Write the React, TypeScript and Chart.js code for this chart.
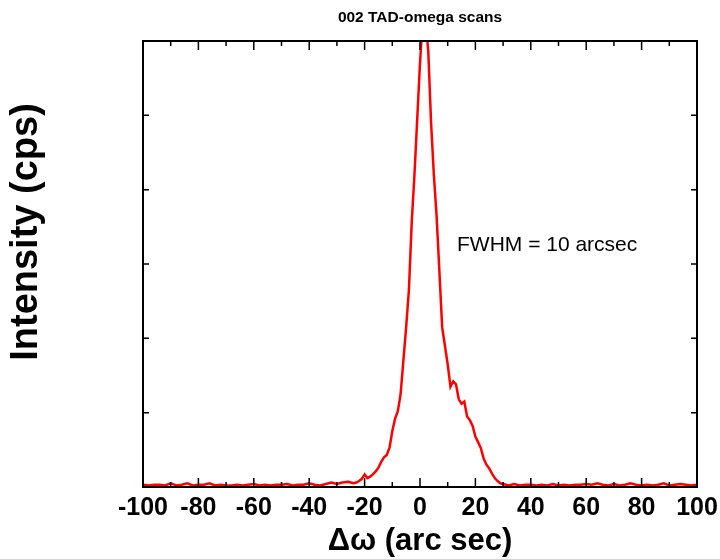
import React, { useEffect, useRef } from "react";
import { Chart, registerables } from "chart.js";

Chart.register(...registerables);

const chartTitle = "002 TAD-omega scans";
const xAxisTitle = "Δω (arc sec)";
const yAxisTitle = "Intensity (cps)";
const annotation = "FWHM = 10 arcsec";

const xTickValues = [-100, -80, -60, -40, -20, 0, 20, 40, 60, 80, 100];
const yTickValues = [1, 2, 3, 4, 5];

const leftBaseX = [-100, -98, -96, -94, -92, -90, -88, -86, -84, -82, -80, -78, -76, -74, -72, -70, -68, -66, -64, -62, -60, -58, -56, -54, -52, -50, -48, -46, -44, -42, -40, -38, -36, -34, -32];
const leftBaseY = [0.03, 0.02, 0.03, 0.03, 0.02, 0.05, 0.02, 0.03, 0.05, 0.02, 0.03, 0.03, 0.05, 0.02, 0.03, 0.02, 0.02, 0.03, 0.02, 0.03, 0.04, 0.02, 0.03, 0.02, 0.03, 0.03, 0.04, 0.02, 0.03, 0.03, 0.05, 0.03, 0.02, 0.04, 0.06];

const peakX = [-30, -28, -26, -25, -24, -23, -22, -21, -20, -19, -18, -17, -16, -15, -14, -13, -12, -11, -10, -9, -8, -7, -6, -5, -4, -3, -2, -1, 0, 1, 2, 3, 4, 5, 6, 7, 8, 9, 10, 11, 12, 13, 14, 15, 16, 17, 18, 19, 20, 21, 22, 23, 24, 25, 26, 27, 28, 29, 30];
const peakY = [0.04, 0.06, 0.07, 0.06, 0.05, 0.06, 0.08, 0.11, 0.17, 0.12, 0.14, 0.17, 0.21, 0.26, 0.34, 0.4, 0.43, 0.53, 0.75, 0.92, 1.02, 1.25, 1.7, 2.15, 2.65, 3.55, 4.2, 4.95, 5.7, 6.3, 6.3, 5.85, 4.9, 4.2, 3.64, 2.9, 2.15, 1.9, 1.65, 1.35, 1.42, 1.38, 1.18, 1.12, 1.15, 0.95, 0.9, 0.82, 0.68, 0.6, 0.52, 0.38, 0.3, 0.25, 0.18, 0.12, 0.08, 0.05, 0.04];

const rightBaseX = [32, 34, 36, 38, 40, 42, 44, 46, 48, 50, 52, 54, 56, 58, 60, 62, 64, 66, 68, 70, 72, 74, 76, 78, 80, 82, 84, 86, 88, 90, 92, 94, 96, 98, 100];
const rightBaseY = [0.02, 0.04, 0.02, 0.03, 0.03, 0.02, 0.03, 0.02, 0.04, 0.02, 0.03, 0.02, 0.03, 0.03, 0.04, 0.03, 0.05, 0.03, 0.02, 0.04, 0.02, 0.03, 0.05, 0.03, 0.02, 0.03, 0.02, 0.03, 0.05, 0.02, 0.03, 0.04, 0.03, 0.02, 0.03];

const FONT = "'Liberation Sans', Arial, Helvetica, sans-serif";

export default function App() {
  const ref = useRef<HTMLCanvasElement | null>(null);

  useEffect(() => {
    if (!ref.current) return;
    const xs = [...leftBaseX, ...peakX, ...rightBaseX];
    const ys = [...leftBaseY, ...peakY, ...rightBaseY];
    const points = xs.map((x, i) => ({ x, y: ys[i] }));

    const framePlugin = {
      id: "frame",
      afterDraw(chart: any) {
        const { ctx, chartArea } = chart;
        const xScale = chart.scales.x;
        const yScale = chart.scales.y;
        const { left, right, top, bottom } = chartArea;
        ctx.save();
        ctx.strokeStyle = "#000";
        ctx.lineWidth = 2;
        ctx.strokeRect(left, top, right - left, bottom - top);
        ctx.lineWidth = 1.5;
        ctx.beginPath();
        for (let v = -100; v <= 100; v += 10) {
          const px = xScale.getPixelForValue(v);
          const len = v % 20 === 0 ? 9 : 5;
          ctx.moveTo(px, bottom);
          ctx.lineTo(px, bottom - len);
          ctx.moveTo(px, top);
          ctx.lineTo(px, top + len);
        }
        for (const v of yTickValues) {
          const py = yScale.getPixelForValue(v);
          ctx.moveTo(left, py);
          ctx.lineTo(left + 6, py);
          ctx.moveTo(right, py);
          ctx.lineTo(right - 6, py);
        }
        ctx.stroke();

        ctx.fillStyle = "#000";
        ctx.textAlign = "center";
        ctx.textBaseline = "middle";
        ctx.font = `bold 15.5px ${FONT}`;
        ctx.fillText(chartTitle, (left + right) / 2, 18);

        ctx.font = `bold 31px ${FONT}`;
        ctx.fillText(xAxisTitle, (left + right) / 2, 541);

        ctx.textAlign = "left";
        ctx.textBaseline = "alphabetic";
        ctx.font = `21px ${FONT}`;
        ctx.fillText(annotation, 457, 251);

        ctx.save();
        ctx.translate(27, 232);
        ctx.rotate(-Math.PI / 2);
        ctx.textAlign = "center";
        ctx.textBaseline = "middle";
        ctx.font = `bold 38px ${FONT}`;
        ctx.fillText(yAxisTitle, 0, 0);
        ctx.restore();
        ctx.restore();
      },
    };

    const chart = new Chart(ref.current, {
      type: "line",
      data: {
        datasets: [
          {
            data: points,
            borderColor: "rgb(255,0,0)",
            borderWidth: 2.5,
            pointRadius: 0,
            tension: 0,
            fill: false,
            clip: 0,
          } as any,
        ],
      },
      options: {
        animation: false,
        responsive: false,
        maintainAspectRatio: false,
        layout: { padding: { left: 0, right: 23, top: 41, bottom: 0 } },
        plugins: {
          legend: { display: false },
          tooltip: { enabled: false },
          title: { display: false },
        },
        scales: {
          x: {
            type: "linear",
            min: -100,
            max: 100,
            grid: { display: false, drawTicks: false },
            border: { display: false },
            afterBuildTicks: (scale: any) => {
              scale.ticks = xTickValues.map((v) => ({ value: v }));
            },
            afterFit: (scale: any) => {
              scale.height = 72;
              scale.paddingLeft = 0;
              scale.paddingRight = 0;
            },
            ticks: {
              color: "#000",
              padding: 6,
              maxRotation: 0,
              autoSkip: false,
              font: { family: FONT, size: 25, weight: "bold" },
            },
          },
          y: {
            type: "linear",
            min: 0,
            max: 6,
            grid: { display: false, drawTicks: false },
            border: { display: false },
            ticks: { display: false, stepSize: 1 },
            afterFit: (scale: any) => {
              scale.width = 143;
              scale.paddingTop = 0;
              scale.paddingBottom = 0;
            },
          },
        },
      },
      plugins: [framePlugin],
    });
    return () => chart.destroy();
  }, []);

  return (
    <div style={{ position: "fixed", left: 0, top: 0, width: 720, height: 559, background: "#fff" }}>
      <canvas ref={ref} width={720} height={559} style={{ width: 720, height: 559, display: "block" }} />
    </div>
  );
}
